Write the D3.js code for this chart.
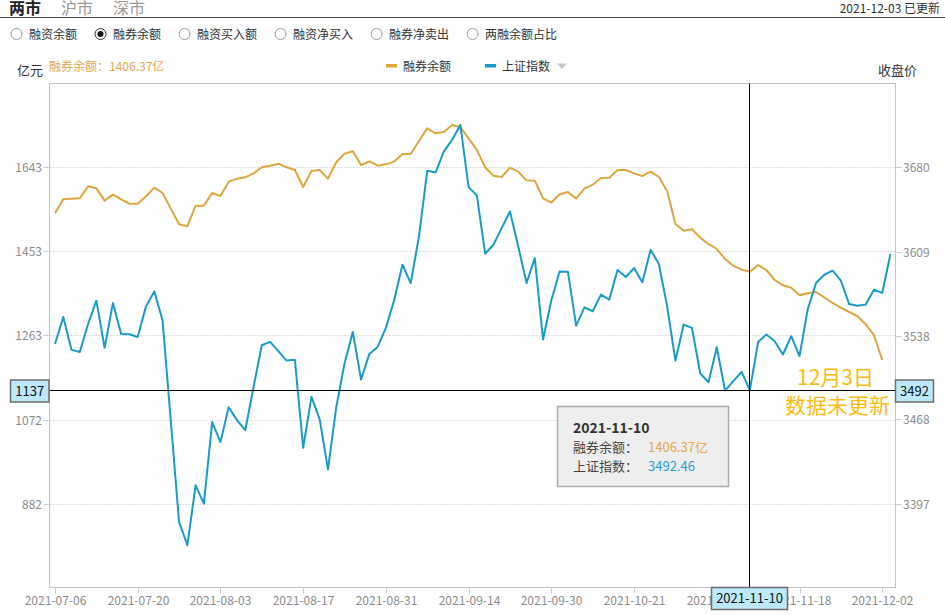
<!DOCTYPE html>
<html><head><meta charset="utf-8">
<script src="https://cdn.jsdelivr.net/npm/d3@7/dist/d3.min.js"></script>
<style>
body{margin:0;background:#fff;}
svg text{font-family:"Noto Sans CJK SC","Noto Sans",sans-serif;}
</style></head><body>
<svg id="c" width="945" height="615"></svg>
<script>
const dates = [
"2021-07-06","2021-07-07","2021-07-08","2021-07-09","2021-07-12","2021-07-13","2021-07-14","2021-07-15","2021-07-16","2021-07-19",
"2021-07-20","2021-07-21","2021-07-22","2021-07-23","2021-07-26","2021-07-27","2021-07-28","2021-07-29","2021-07-30",
"2021-08-02","2021-08-03","2021-08-04","2021-08-05","2021-08-06","2021-08-09","2021-08-10","2021-08-11","2021-08-12","2021-08-13",
"2021-08-16","2021-08-17","2021-08-18","2021-08-19","2021-08-20","2021-08-23","2021-08-24","2021-08-25","2021-08-26","2021-08-27",
"2021-08-30","2021-08-31",
"2021-09-01","2021-09-02","2021-09-03","2021-09-06","2021-09-07","2021-09-08","2021-09-09","2021-09-10","2021-09-13","2021-09-14",
"2021-09-15","2021-09-16","2021-09-17","2021-09-22","2021-09-23","2021-09-24","2021-09-27","2021-09-28","2021-09-29","2021-09-30",
"2021-10-08","2021-10-11","2021-10-12","2021-10-13","2021-10-14","2021-10-15","2021-10-18","2021-10-19","2021-10-20","2021-10-21",
"2021-10-22","2021-10-25","2021-10-26","2021-10-27","2021-10-28","2021-10-29",
"2021-11-01","2021-11-02","2021-11-03","2021-11-04","2021-11-05","2021-11-08","2021-11-09","2021-11-10","2021-11-11","2021-11-12",
"2021-11-15","2021-11-16","2021-11-17","2021-11-18","2021-11-19","2021-11-22","2021-11-23","2021-11-24","2021-11-25","2021-11-26",
"2021-11-29","2021-11-30","2021-12-01","2021-12-02","2021-12-03"];

// 融券余额 (亿元) — 12-03 not yet updated
const shortBalance = [
1538.5,1570.2,1571.7,1572.4,1599.5,1595.0,1567.2,1580.7,1570.2,1560.4,
1560.4,1577.0,1596.5,1584.5,1549.1,1513.7,1509.2,1555.9,1555.9,1584.5,
1577.7,1610.1,1616.9,1619.9,1628.9,1642.5,1646.2,1650.7,1642.5,1636.4,
1598.0,1634.2,1636.4,1616.9,1653.8,1673.3,1678.6,1647.7,1656.0,1646.2,
1649.2,1655.3,1672.6,1672.6,1702.0,1730.6,1719.3,1722.3,1738.1,1733.6,
1708.0,1681.6,1642.5,1623.6,1620.6,1641.7,1632.7,1613.1,1612.3,1572.4,
1562.6,1581.5,1586.7,1571.7,1594.3,1603.3,1618.4,1619.1,1636.4,1636.4,
1628.9,1622.9,1632.7,1620.6,1589.0,1514.4,1499.4,1502.4,1483.6,1469.3,
1457.9,1435.4,1420.3,1411.3,1406.37,1421.8,1410.5,1387.9,1375.9,1370.6,
1353.3,1357.8,1360.8,1348.8,1336.0,1325.4,1315.6,1306.6,1287.8,1263.7,
1207.2,null];

// 上证指数 收盘价
const sseClose = [
3531.3,3554.0,3526.3,3524.6,3548.1,3567.7,3528.0,3565.8,3539.7,3539.4,
3537.2,3562.9,3575.5,3551.2,3466.4,3381.6,3362.0,3412.4,3397.0,3465.6,
3448.8,3478.1,3467.2,3458.8,3494.9,3530.2,3533.0,3525.2,3517.3,3517.9,
3444.0,3486.8,3467.8,3425.8,3478.1,3514.8,3541.4,3501.4,3522.9,3528.8,
3544.8,3568.0,3597.9,3582.5,3621.7,3676.9,3675.5,3693.1,3702.9,3715.5,
3663.2,3656.2,3607.2,3614.7,3628.7,3642.7,3613.3,3582.5,3603.5,3535.0,
3568.0,3592.3,3592.1,3546.7,3562.1,3558.8,3572.8,3568.6,3593.5,3587.6,
3595.1,3583.1,3610.5,3598.5,3562.9,3517.3,3547.6,3544.8,3506.4,3499.1,
3528.5,3492.1,3500.0,3507.8,3492.46,3533.0,3539.2,3533.6,3522.4,3537.8,
3521.0,3560.7,3582.5,3589.5,3592.9,3584.5,3564.9,3563.5,3564.4,3576.9,
3574.2,3607.2];

const leftDomain = [692, 1833];
const rightDomain = [3326, 3750.8];
const leftTicks = [882, 1072, 1263, 1453, 1643];
const rightTicks = [3397, 3468, 3538, 3609, 3680];
const xTickDates = ["2021-07-06","2021-07-20","2021-08-03","2021-08-17","2021-08-31","2021-09-14",
  "2021-09-30","2021-10-21","2021-11-04","2021-11-18","2021-12-02"];
const tabs = ["两市","沪市","深市"];
const radioLabels = ["融资余额","融券余额","融资买入额","融资净买入","融券净卖出","两融余额占比"];
const selectedRadio = 1;
const seriesNames = ["融券余额","上证指数"];
const updateText = "2021-12-03 已更新";
const hoverDate = "2021-11-10";
const crossLeftLabel = "1137";
const crossRightLabel = "3492";
const noteLines = ["12月3日","数据未更新"];

const C_OR = "#DCA640", C_BL = "#1B9AC8", C_NOTE = "#FABB14";
const svg = d3.select("#c");
const L = 49.5, R = 895.5, T = 83.5, B = 587.5;

// header
const tabX = [9, 61, 113];
svg.selectAll(".tab").data(tabs).join("text")
  .attr("x", (d,i)=>tabX[i]).attr("y", 14)
  .attr("font-size", 16).attr("font-weight", (d,i)=>i===0?"bold":"normal")
  .attr("fill", (d,i)=>i===0?"#222":"#9a9a9a").text(d=>d);
svg.append("line").attr("x1",0).attr("x2",945).attr("y1",17.5).attr("y2",17.5)
  .attr("stroke","#444").attr("stroke-width",1.2);
svg.append("text").attr("x",940).attr("y",12.5).attr("text-anchor","end")
  .attr("font-size",12).attr("fill","#333").text(updateText);

// radios
let rx = 16.5;
radioLabels.forEach((lab,i)=>{
  const g = svg.append("g");
  g.append("circle").attr("cx",rx).attr("cy",34).attr("r",5.5)
    .attr("fill","#fff").attr("stroke", i===selectedRadio?"#333":"#999").attr("stroke-width",1);
  if(i===selectedRadio) g.append("circle").attr("cx",rx).attr("cy",34).attr("r",3).attr("fill","#111");
  const t = g.append("text").attr("x",rx+12.5).attr("y",38.5).attr("font-size",12).attr("fill","#333").text(lab);
  const w = t.node().getComputedTextLength();
  rx = rx + 12.5 + w + 23.5;
});

// scales
const x = d3.scalePoint().domain(dates).range([55, 890.5]);
const yL = d3.scaleLinear().domain(leftDomain).range([B+0.5, T-0.5]);
const yR = d3.scaleLinear().domain(rightDomain).range([B+0.5, T-0.5]);

// labels top
svg.append("text").attr("x",43).attr("y",75).attr("text-anchor","end").attr("font-size",13).attr("fill","#333").text("亿元");
svg.append("text").attr("x",878).attr("y",75).attr("font-size",13).attr("fill","#333").text("收盘价");
svg.append("text").attr("x",49).attr("y",71).attr("font-size",12).attr("fill","#E0A94A")
  .text(seriesNames[0] + "：" + d3.format(".2f")(shortBalance[dates.indexOf(hoverDate)]) + "亿");

// legend
const legX = [386, 485];
[C_OR, C_BL].forEach((c,i)=>{
  svg.append("rect").attr("x",legX[i]).attr("y",64).attr("width",11).attr("height",3.5).attr("fill",c);
  svg.append("text").attr("x",legX[i]+17).attr("y",70.5).attr("font-size",12).attr("fill","#333").text(seriesNames[i]);
});
svg.append("path").attr("d","M557,63.5 L567,63.5 L562,69 Z").attr("fill","#c8c8c8");

// frame
svg.append("rect").attr("x",L).attr("y",T).attr("width",R-L).attr("height",B-T)
  .attr("fill","none").attr("stroke","#c4c4c4").attr("stroke-width",1);

// grid + y axes
leftTicks.forEach(v=>{
  const yy = Math.round(yL(v))+0.5;
  svg.append("line").attr("x1",L+1).attr("x2",R-1).attr("y1",yy).attr("y2",yy)
    .attr("stroke","#bdbdbd").attr("stroke-dasharray","1,2");
  svg.append("line").attr("x1",L-6).attr("x2",L).attr("y1",yy).attr("y2",yy).attr("stroke","#ccc");
  svg.append("text").attr("x",42).attr("y",yy+4.5).attr("text-anchor","end")
    .attr("font-size",12).attr("fill","#8c8c8c").text(v);
});
rightTicks.forEach(v=>{
  const yy = Math.round(yR(v))+0.5;
  svg.append("line").attr("x1",R).attr("x2",R+6).attr("y1",yy).attr("y2",yy).attr("stroke","#ccc");
  svg.append("text").attr("x",903).attr("y",yy+4.5)
    .attr("font-size",12).attr("fill","#8c8c8c").text(v);
});
// x axis
xTickDates.forEach(d=>{
  const xx = Math.round(x(d))+0.5;
  svg.append("line").attr("x1",xx).attr("x2",xx).attr("y1",B).attr("y2",B+6).attr("stroke","#ccc");
  svg.append("text").attr("x",xx).attr("y",605).attr("text-anchor","middle")
    .attr("font-size",12).attr("fill","#8c8c8c").text(d);
});

// lines
svg.append("clipPath").attr("id","clip").append("rect").attr("x",L).attr("y",T).attr("width",R-L).attr("height",B-T);
const lineL = d3.line().defined(d=>d[1]!=null).x(d=>x(d[0])).y(d=>yL(d[1]));
const lineR = d3.line().x(d=>x(d[0])).y(d=>yR(d[1]));
svg.append("path").attr("clip-path","url(#clip)").datum(dates.map((d,i)=>[d,shortBalance[i]]))
  .attr("d",lineL).attr("fill","none").attr("stroke",C_OR).attr("stroke-width",2).attr("stroke-linejoin","round");
svg.append("path").attr("clip-path","url(#clip)").datum(dates.map((d,i)=>[d,sseClose[i]]))
  .attr("d",lineR).attr("fill","none").attr("stroke",C_BL).attr("stroke-width",2).attr("stroke-linejoin","round");

// note
svg.append("text").attr("x",797).attr("y",385).attr("font-size",21).attr("fill",C_NOTE).text(noteLines[0]);
svg.append("text").attr("x",785).attr("y",413).attr("font-size",21).attr("fill",C_NOTE).text(noteLines[1]);

// crosshair
const hi = dates.indexOf(hoverDate);
const cx = Math.round(x(hoverDate))-0.5;
const cy = Math.round(yR(sseClose[hi]))+0.5;
svg.append("line").attr("x1",cx).attr("x2",cx).attr("y1",T).attr("y2",B).attr("stroke","#000");
svg.append("line").attr("x1",L).attr("x2",R).attr("y1",cy).attr("y2",cy).attr("stroke","#000");

function box(x0,y0,w,h,txt,fs){
  svg.append("rect").attr("x",x0).attr("y",y0).attr("width",w).attr("height",h)
    .attr("fill","#BDE8FA").attr("stroke","#6e6e6e").attr("stroke-width",1.5);
  svg.append("text").attr("x",x0+w/2).attr("y",y0+h/2+fs*0.36).attr("text-anchor","middle")
    .attr("font-size",fs).attr("fill","#111").text(txt);
}
box(10.5, cy-10.5, 38.5, 22, crossLeftLabel, 13);
box(R, cy-10.5, 38, 22, crossRightLabel, 13);
box(cx-38, B, 76, 22, hoverDate, 13);

// tooltip
const tx = 557.5, ty = 406.5;
svg.append("rect").attr("x",tx).attr("y",ty).attr("width",171).attr("height",80)
  .attr("fill","#eeeeee").attr("stroke","#acacac").attr("stroke-width",1.5);
svg.append("text").attr("x",tx+15.5).attr("y",ty+26.5).attr("font-size",14).attr("font-weight","bold").attr("fill","#333").text(hoverDate);
svg.append("text").attr("x",tx+15.5).attr("y",ty+45.5).attr("font-size",13).attr("fill","#444").text(seriesNames[0]+"：");
svg.append("text").attr("x",tx+90.5).attr("y",ty+45.5).attr("font-size",13).attr("fill","#E0A94A").text(d3.format(".2f")(shortBalance[hi])+"亿");
svg.append("text").attr("x",tx+15.5).attr("y",ty+64.5).attr("font-size",13).attr("fill","#444").text(seriesNames[1]+"：");
svg.append("text").attr("x",tx+90.5).attr("y",ty+64.5).attr("font-size",13).attr("fill","#2A9ED0").text(d3.format(".2f")(sseClose[hi]));
</script>
</body></html>
